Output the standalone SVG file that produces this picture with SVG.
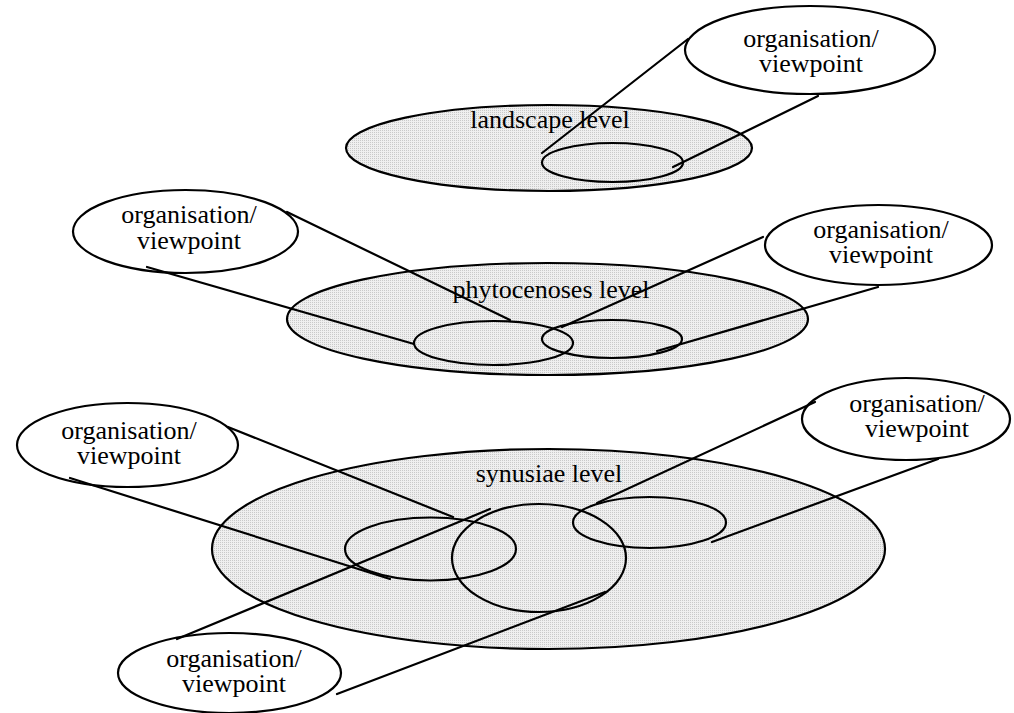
<svg xmlns="http://www.w3.org/2000/svg" width="1014" height="713" viewBox="0 0 1014 713">
<defs>
<pattern id="dots" width="2" height="2" patternUnits="userSpaceOnUse">
<rect width="2" height="2" fill="#efefef"/>
<rect width="1" height="1" fill="#c9c9c9"/>
</pattern>
<style>
.lvl{fill:url(#dots);stroke:#000;stroke-width:2.2}
.sub{fill:none;stroke:#000;stroke-width:2.2}
.call{fill:#fff;stroke:#000;stroke-width:2.2}
.con line{stroke:#000;stroke-width:2.2;stroke-linecap:round}
text{font-family:"Liberation Serif","Times New Roman",serif;font-size:26px;fill:#000;text-anchor:middle}
</style>
</defs>
<rect width="1014" height="713" fill="#fff"/>

<g id="landscape-level">
<ellipse class="lvl" cx="549" cy="148" rx="203" ry="43"/>
<text x="550" y="128">landscape level</text>
<ellipse class="sub" cx="612.5" cy="162.5" rx="70.5" ry="19.5"/>
</g>

<g id="phytocenoses-level">
<ellipse class="lvl" cx="547.5" cy="319" rx="260.5" ry="56"/>
<text x="551" y="298">phytocenoses level</text>
<ellipse class="sub" cx="493.5" cy="343" rx="79.5" ry="22"/>
<ellipse class="sub" cx="612" cy="339" rx="70" ry="19"/>
</g>

<g id="synusiae-level">
<ellipse class="lvl" cx="548.5" cy="549" rx="336.5" ry="100"/>
<text x="549" y="482">synusiae level</text>
<ellipse class="sub" cx="430.5" cy="549" rx="85.5" ry="31.5"/>
<ellipse class="sub" cx="539" cy="558" rx="87" ry="54"/>
<ellipse class="sub" cx="649.5" cy="522.5" rx="76.5" ry="25.5"/>
</g>

<g id="callout-landscape">
<ellipse class="call" cx="810" cy="50" rx="125" ry="44"/>
<text x="811" y="47">organisation/</text>
<text x="811" y="72">viewpoint</text>
</g>

<g id="callout-phyto-left">
<ellipse class="call" cx="185.5" cy="231.5" rx="112.5" ry="41.5"/>
<text x="189" y="223">organisation/</text>
<text x="189" y="249">viewpoint</text>
</g>

<g id="callout-phyto-right">
<ellipse class="call" cx="878.5" cy="245" rx="113.5" ry="40"/>
<text x="881" y="238">organisation/</text>
<text x="881" y="263">viewpoint</text>
</g>

<g id="callout-syn-left">
<ellipse class="call" cx="127.5" cy="445" rx="110.5" ry="42"/>
<text x="129" y="439">organisation/</text>
<text x="129" y="464">viewpoint</text>
</g>

<g id="callout-syn-right">
<ellipse class="call" cx="906" cy="419" rx="104" ry="41"/>
<text x="917" y="412">organisation/</text>
<text x="917" y="437">viewpoint</text>
</g>

<g id="callout-syn-bottom">
<ellipse class="call" cx="229.5" cy="673" rx="111.5" ry="40"/>
<text x="234" y="667">organisation/</text>
<text x="234" y="692">viewpoint</text>
</g>

<g id="connectors" class="con">
<line x1="688" y1="39" x2="542" y2="153"/>
<line x1="818" y1="96" x2="673" y2="167"/>
<line x1="287" y1="212" x2="510" y2="320"/>
<line x1="147" y1="267" x2="414" y2="344"/>
<line x1="763" y1="237" x2="562" y2="327"/>
<line x1="878" y1="287" x2="657" y2="351"/>
<line x1="228" y1="427" x2="453" y2="517"/>
<line x1="70" y1="478" x2="390" y2="579"/>
<line x1="177" y1="639" x2="490" y2="509"/>
<line x1="337" y1="694" x2="605" y2="592"/>
<line x1="815" y1="402" x2="597" y2="503"/>
<line x1="938" y1="459" x2="712" y2="542"/>
</g>
</svg>
